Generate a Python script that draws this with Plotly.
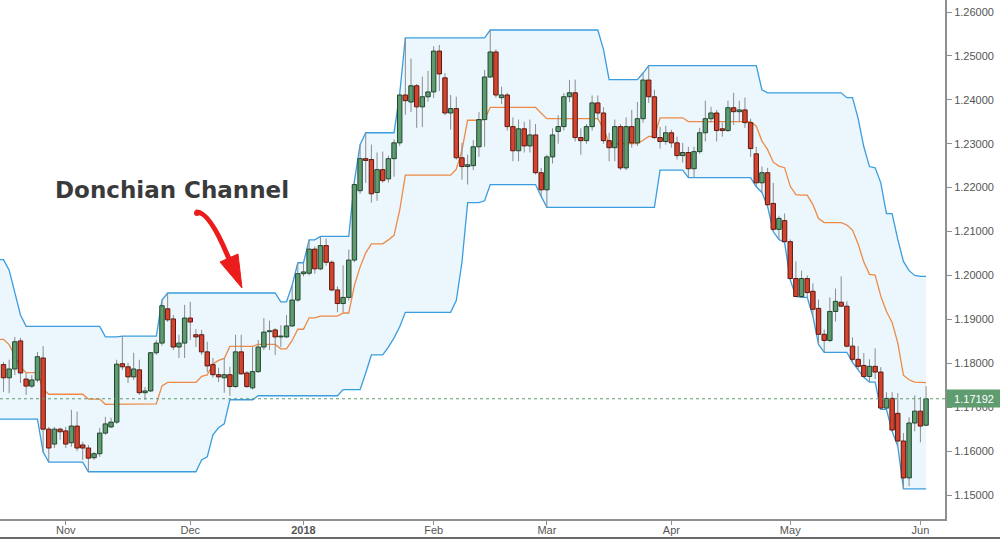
import numpy as np
import pandas as pd
import plotly.graph_objects as go

# ---------------- data (EUR/USD daily) ----------------
# trading days: weekdays, Christmas 2017 skipped. First 20 rows are history
# before the visible window (only used for the 20-day channel).
dates = pd.bdate_range("2017-09-19", "2018-06-04")
dates = dates[dates != pd.Timestamp("2017-12-25")]

open_ = [
    # hidden history Sep 19 - Oct 16
    1.1995, 1.1995, 1.1890, 1.1940, 1.1900, 1.1850, 1.1795, 1.1745, 1.1785, 1.1815,
    1.1735, 1.1745, 1.1760, 1.1710, 1.1730, 1.1770, 1.1810, 1.1860, 1.1825, 1.1845,
    # Oct 17 - Oct 31
    1.1797, 1.1767, 1.1787, 1.1851, 1.1764, 1.1748, 1.1762, 1.1812, 1.1650, 1.1616, 1.1650,
    # Nov
    1.1646, 1.1619, 1.1657, 1.1614, 1.1607, 1.1585, 1.1594, 1.1641, 1.1655, 1.1666, 1.1799,
    1.1792, 1.1769, 1.1785, 1.1733, 1.1737, 1.1824, 1.1846, 1.1924, 1.1901, 1.1837, 1.1846,
    # Dec
    1.1903, 1.1865, 1.1865, 1.1826, 1.1797, 1.1774, 1.1767, 1.1774, 1.1747, 1.1826, 1.1778,
    1.1744, 1.1781, 1.1837, 1.1872, 1.1876, 1.1860, 1.1860, 1.1885, 1.1944,
    # Jan
    1.2004, 1.2005, 1.2060, 1.2015, 1.2068, 1.2030, 1.1967, 1.1936, 1.1950, 1.2035, 1.2193,
    1.2266, 1.2264, 1.2189, 1.2241, 1.2220, 1.2266, 1.2302, 1.2411, 1.2395, 1.2432, 1.2384,
    1.2407,
    # Feb
    1.2418, 1.2511, 1.2450, 1.2370, 1.2380, 1.2268, 1.2248, 1.2250, 1.2293, 1.2355, 1.2452,
    1.2509, 1.2405, 1.2411, 1.2339, 1.2284, 1.2334, 1.2295, 1.2320, 1.2234,
    # Mar
    1.2195, 1.2270, 1.2328, 1.2339, 1.2407, 1.2416, 1.2314, 1.2307, 1.2339, 1.2393, 1.2370,
    1.2307, 1.2291, 1.2339, 1.2245, 1.2339, 1.2302, 1.2357, 1.2445, 1.2407, 1.2314, 1.2305,
    # Apr
    1.2325, 1.2302, 1.2273, 1.2280, 1.2243, 1.2282, 1.2325, 1.2357, 1.2370, 1.2334, 1.2330,
    1.2382, 1.2373, 1.2377, 1.2348, 1.2277, 1.2211, 1.2234, 1.2164, 1.2105, 1.2125,
    # May
    1.2077, 1.1993, 1.1952, 1.1993, 1.1964, 1.1925, 1.1866, 1.1852, 1.1918, 1.1939, 1.1930,
    1.1839, 1.1809, 1.1795, 1.1770, 1.1793, 1.1780, 1.1698, 1.1720, 1.1686, 1.1623, 1.1539,
    1.1664,
    # Jun
    1.1691, 1.1659,
]
high = [
    1.2010, 1.2036, 1.2012, 1.1960, 1.1910, 1.1860, 1.1800, 1.1790, 1.1830, 1.1820,
    1.1780, 1.1790, 1.1775, 1.1740, 1.1785, 1.1815, 1.1865, 1.1880, 1.1884, 1.1850,
    1.1803, 1.1808, 1.1860, 1.1858, 1.1778, 1.1773, 1.1826, 1.1839, 1.1655, 1.1655, 1.1653,
    1.1655, 1.1694, 1.1690, 1.1621, 1.1614, 1.1598, 1.1653, 1.1678, 1.1676, 1.1808, 1.1862,
    1.1801, 1.1824, 1.1808, 1.1746, 1.1826, 1.1853, 1.1944, 1.1960, 1.1910, 1.1865, 1.1933,
    1.1940, 1.1878, 1.1876, 1.1849, 1.1812, 1.1790, 1.1812, 1.1792, 1.1865, 1.1865, 1.1782,
    1.1837, 1.1853, 1.1903, 1.1897, 1.1880, 1.1887, 1.1910, 1.1978, 1.2029,
    1.2029, 1.2081, 1.2066, 1.2089, 1.2084, 1.2034, 1.1975, 1.2023, 1.2059, 1.2215, 1.2298,
    1.2325, 1.2298, 1.2280, 1.2282, 1.2273, 1.2310, 1.2414, 1.2541, 1.2494, 1.2436, 1.2453,
    1.2466,
    1.2522, 1.2525, 1.2461, 1.2411, 1.2407, 1.2302, 1.2275, 1.2308, 1.2372, 1.2468, 1.2559,
    1.2515, 1.2430, 1.2416, 1.2360, 1.2355, 1.2350, 1.2355, 1.2345, 1.2245,
    1.2275, 1.2335, 1.2365, 1.2415, 1.2445, 1.2446, 1.2335, 1.2345, 1.2410, 1.2410, 1.2383,
    1.2325, 1.2355, 1.2345, 1.2360, 1.2377, 1.2395, 1.2461, 1.2478, 1.2423, 1.2339, 1.2341,
    1.2332, 1.2316, 1.2302, 1.2293, 1.2293, 1.2336, 1.2398, 1.2384, 1.2377, 1.2348, 1.2398,
    1.2416, 1.2398, 1.2405, 1.2357, 1.2293, 1.2248, 1.2245, 1.2211, 1.2136, 1.2141,
    1.2082, 1.2032, 1.2011, 1.2000, 1.1982, 1.1945, 1.1877, 1.1950, 1.1970, 1.1998, 1.1941,
    1.1859, 1.1839, 1.1823, 1.1809, 1.1834, 1.1791, 1.1734, 1.1734, 1.1732, 1.1641, 1.1677,
    1.1727,
    1.1723, 1.1748,
]
low = [
    1.1975, 1.1865, 1.1862, 1.1895, 1.1845, 1.1790, 1.1720, 1.1720, 1.1770, 1.1730,
    1.1730, 1.1740, 1.1695, 1.1673, 1.1725, 1.1740, 1.1800, 1.1815, 1.1820, 1.1790,
    1.1735, 1.1732, 1.1773, 1.1755, 1.1728, 1.1744, 1.1757, 1.1598, 1.1575, 1.1607, 1.1626,
    1.1607, 1.1610, 1.1600, 1.1580, 1.1553, 1.1580, 1.1587, 1.1637, 1.1653, 1.1662, 1.1785,
    1.1755, 1.1762, 1.1728, 1.1717, 1.1735, 1.1819, 1.1840, 1.1894, 1.1830, 1.1812, 1.1812,
    1.1853, 1.1837, 1.1819, 1.1780, 1.1767, 1.1757, 1.1733, 1.1726, 1.1744, 1.1774, 1.1744,
    1.1740, 1.1778, 1.1830, 1.1830, 1.1819, 1.1837, 1.1858, 1.1883, 1.1940,
    1.1998, 1.2000, 1.2004, 1.2012, 1.2022, 1.1964, 1.1916, 1.1916, 1.1943, 1.2030, 1.2186,
    1.2211, 1.2166, 1.2170, 1.2211, 1.2212, 1.2225, 1.2295, 1.2366, 1.2372, 1.2336, 1.2338,
    1.2396,
    1.2404, 1.2420, 1.2365, 1.2332, 1.2264, 1.2218, 1.2207, 1.2240, 1.2270, 1.2293, 1.2450,
    1.2405, 1.2390, 1.2330, 1.2260, 1.2260, 1.2280, 1.2280, 1.2230, 1.2180,
    1.2155, 1.2255, 1.2300, 1.2330, 1.2395, 1.2305, 1.2275, 1.2300, 1.2330, 1.2355, 1.2300,
    1.2260, 1.2260, 1.2240, 1.2240, 1.2291, 1.2295, 1.2348, 1.2393, 1.2311, 1.2289, 1.2298,
    1.2291, 1.2264, 1.2257, 1.2223, 1.2223, 1.2277, 1.2305, 1.2348, 1.2305, 1.2316, 1.2327,
    1.2343, 1.2350, 1.2336, 1.2270, 1.2202, 1.2189, 1.2157, 1.2100, 1.2082, 1.2075,
    1.1990, 1.1952, 1.1950, 1.1950, 1.1907, 1.1843, 1.1825, 1.1848, 1.1895, 1.1930, 1.1836,
    1.1802, 1.1786, 1.1768, 1.1757, 1.1764, 1.1695, 1.1695, 1.1645, 1.1611, 1.1514, 1.1520,
    1.1645,
    1.1620, 1.1657,
]
close = [
    1.1995, 1.1890, 1.1940, 1.1900, 1.1850, 1.1795, 1.1745, 1.1785, 1.1815, 1.1735,
    1.1745, 1.1760, 1.1710, 1.1730, 1.1770, 1.1810, 1.1860, 1.1825, 1.1845, 1.1797,
    1.1767, 1.1787, 1.1849, 1.1778, 1.1748, 1.1762, 1.1815, 1.1650, 1.1607, 1.1650, 1.1644,
    1.1616, 1.1657, 1.1607, 1.1607, 1.1584, 1.1594, 1.1641, 1.1662, 1.1666, 1.1798, 1.1792,
    1.1769, 1.1787, 1.1733, 1.1737, 1.1824, 1.1846, 1.1931, 1.1899, 1.1837, 1.1846, 1.1903,
    1.1894, 1.1860, 1.1826, 1.1794, 1.1774, 1.1769, 1.1774, 1.1747, 1.1826, 1.1776, 1.1747,
    1.1781, 1.1837, 1.1871, 1.1874, 1.1860, 1.1862, 1.1885, 1.1944, 1.2004,
    1.2008, 1.2060, 1.2015, 1.2068, 1.2030, 1.1967, 1.1936, 1.1950, 1.2035, 1.2207, 1.2266,
    1.2262, 1.2186, 1.2241, 1.2216, 1.2266, 1.2302, 1.2411, 1.2398, 1.2432, 1.2384, 1.2407,
    1.2418,
    1.2511, 1.2459, 1.2370, 1.2380, 1.2268, 1.2248, 1.2252, 1.2293, 1.2355, 1.2452, 1.2509,
    1.2411, 1.2411, 1.2339, 1.2284, 1.2334, 1.2295, 1.2320, 1.2234, 1.2195,
    1.2270, 1.2320, 1.2339, 1.2407, 1.2416, 1.2314, 1.2307, 1.2339, 1.2393, 1.2370, 1.2307,
    1.2291, 1.2339, 1.2245, 1.2339, 1.2302, 1.2357, 1.2445, 1.2407, 1.2314, 1.2305, 1.2325,
    1.2302, 1.2273, 1.2280, 1.2243, 1.2282, 1.2325, 1.2357, 1.2370, 1.2330, 1.2330, 1.2382,
    1.2373, 1.2377, 1.2348, 1.2289, 1.2211, 1.2234, 1.2161, 1.2105, 1.2130, 1.2077,
    1.1993, 1.1952, 1.1993, 1.1961, 1.1923, 1.1866, 1.1852, 1.1918, 1.1941, 1.1930, 1.1839,
    1.1809, 1.1793, 1.1770, 1.1793, 1.1780, 1.1698, 1.1720, 1.1648, 1.1623, 1.1539, 1.1664,
    1.1691,
    1.1657, 1.17192,
]

HIDDEN = 20          # rows before the visible window
PERIOD = 20          # Donchian look-back
last_price = 1.17192
y_ticks = [1.15, 1.16, 1.17, 1.18, 1.19, 1.20, 1.21, 1.22, 1.23, 1.24, 1.25, 1.26]

n = len(dates)
assert len(open_) == len(high) == len(low) == len(close) == n, (len(open_), len(high), len(low), len(close), n)

o = np.array(open_); h = np.array(high); l = np.array(low); c = np.array(close)
xi = np.arange(n) - (HIDDEN - 1)          # 1 = first visible session

upper = pd.Series(h).rolling(PERIOD).max().to_numpy()
lower = pd.Series(l).rolling(PERIOD).min().to_numpy()
middle = (upper + lower) / 2

vis = slice(HIDDEN - 1, n)                 # channel drawn from the last hidden bar

# month ticks = first session of each month in the visible window
ds = pd.Series(dates)
first = ds.dt.to_period("M") != ds.dt.to_period("M").shift(1)
tick_idx = [i for i in range(HIDDEN, n) if first.iloc[i]]
tick_vals = [int(xi[i]) for i in tick_idx]
tick_text = [("<b>%d</b>" % dates[i].year) if dates[i].month == 1 else dates[i].strftime("%b")
             for i in tick_idx]

# ---------------- figure ----------------
W, H = 1000, 540
ML, MR, MT, MB = 0, 55, 0, 21
PW, PH = W - ML - MR, H - MT - MB
BODY = 0.39   # half body width, in sessions

def px(xp, yp):
    """pixel -> paper coordinates (for the decorative arrow)"""
    return (xp - ML) / PW, 1 - (yp - MT) / PH

fig = go.Figure()

# channel fill
fig.add_trace(go.Scatter(x=xi[vis], y=upper[vis], mode="lines",
                         line=dict(color="#3a9de0", width=1.3), hoverinfo="skip"))
fig.add_trace(go.Scatter(x=xi[vis], y=lower[vis], mode="lines", fill="tonexty",
                         fillcolor="rgba(222,240,252,0.6)",
                         line=dict(color="#3a9de0", width=1.3), hoverinfo="skip"))
fig.add_trace(go.Scatter(x=xi[vis], y=middle[vis], mode="lines",
                         line=dict(color="#ee8a45", width=1.3), hoverinfo="skip"))

# wicks
wx, wy = [], []
for i in range(HIDDEN, n):
    wx += [xi[i], xi[i], None]
    wy += [l[i], h[i], None]
fig.add_trace(go.Scatter(x=wx, y=wy, mode="lines", line=dict(color="#8c8c8c", width=1),
                         hoverinfo="skip"))

# bodies (filled rectangles, drawn above the channel fill)
def bodies(rising):
    bx, by = [], []
    for i in range(HIDDEN, n):
        if (c[i] >= o[i]) != rising:
            continue
        lo_, hi_ = min(o[i], c[i]), max(o[i], c[i])
        if hi_ - lo_ < 0.00004:
            hi_ = lo_ + 0.00004
        x0, x1 = xi[i] - BODY, xi[i] + BODY
        bx += [x0, x1, x1, x0, x0, None]
        by += [lo_, lo_, hi_, hi_, lo_, None]
    return bx, by

for rising, fc, lc in [(True, "#5e9c6f", "#23452f"), (False, "#d3432e", "#5e1a10")]:
    bx, by = bodies(rising)
    fig.add_trace(go.Scatter(x=bx, y=by, mode="lines", fill="toself", fillcolor=fc,
                             line=dict(color=lc, width=1), hoverinfo="skip"))

# last price dotted line
fig.add_shape(type="line", xref="paper", x0=0, x1=1, yref="y", y0=last_price, y1=last_price,
              line=dict(color="#5f9a72", width=1, dash="dot"))
fig.add_annotation(xref="paper", x=1, xanchor="left", yref="y", y=last_price, xshift=1,
                   text=f"{last_price:.5f}", showarrow=False, bgcolor="#5f9c6f",
                   font=dict(family="Liberation Sans, Arial", size=11, color="white"),
                   width=52, height=15, align="center")

# title text and red arrow
tx, ty = px(172, 190)
fig.add_annotation(xref="paper", yref="paper", x=tx, y=ty, xanchor="center", yanchor="middle",
                   text="<b>Donchian Channel</b>", showarrow=False,
                   font=dict(family="DejaVu Sans", size=23, color="#3a3a3a"))

def path(points, cmd):
    out = []
    for k, (a, b) in zip(cmd, points):
        pa, pb = px(a, b)
        out.append(f"{k}{pa:.5f},{pb:.5f}")
    return " ".join(out)

shaft = path([(196, 212), (206, 211), (218, 232), (229, 259)], ["M", "C", " ", " "])
fig.add_shape(type="path", xref="paper", yref="paper", path=shaft,
              line=dict(color="#ec1c1c", width=5))
head = path([(220, 262), (238, 254), (242, 288)], ["M", "L", "L"]) + " Z"
fig.add_shape(type="path", xref="paper", yref="paper", path=head,
              fillcolor="#ec1c1c", line=dict(color="#ec1c1c", width=1))
sx, sy = px(197, 213)
fig.add_shape(type="circle", xref="paper", yref="paper",
              x0=sx - 3 / PW, x1=sx + 3 / PW, y0=sy - 3 / PH, y1=sy + 3 / PH,
              fillcolor="#ec1c1c", line=dict(width=0))

# bottom frame of the picture
fy = 1 - (538 - MT) / PH
fig.add_shape(type="line", xref="paper", yref="paper", x0=0, x1=W / PW, y0=fy, y1=fy,
              line=dict(color="#6a6a6a", width=2))

# axis ranges from pixel geometry: candle 1 at 3.5px, 5.66px per session
x0_val = 1 - 3.5 / 5.66
x1_val = x0_val + PW / 5.66
y_top = 1.26 + 12 / 4391
y_bot = y_top - PH / 4391

fig.update_layout(
    width=W, height=H, margin=dict(l=ML, r=MR, t=MT, b=MB, autoexpand=False),
    paper_bgcolor="white", plot_bgcolor="white", showlegend=False,
    xaxis=dict(range=[x0_val, x1_val], tickvals=tick_vals, ticktext=tick_text,
               showgrid=False, zeroline=False, showline=True, linecolor="#8f8f8f", linewidth=2,
               ticks="outside", ticklen=4, tickcolor="#8f8f8f", ticklabelstandoff=-4,
               tickfont=dict(family="Liberation Sans, Arial", size=11, color="#555555")),
    yaxis=dict(side="right", range=[y_bot, y_top], tickvals=y_ticks,
               ticktext=[f"{v:.5f}" for v in y_ticks],
               showgrid=False, zeroline=False, showline=True, linecolor="#8f8f8f", linewidth=2,
               ticks="outside", ticklen=5, tickcolor="#8f8f8f",
               tickfont=dict(family="Liberation Sans, Arial", size=11, color="#555555")),
)

fig.write_html("out.html", config={"displayModeBar": False},
               post_script="document.body.style.margin='0px';document.body.style.overflow='hidden';")
